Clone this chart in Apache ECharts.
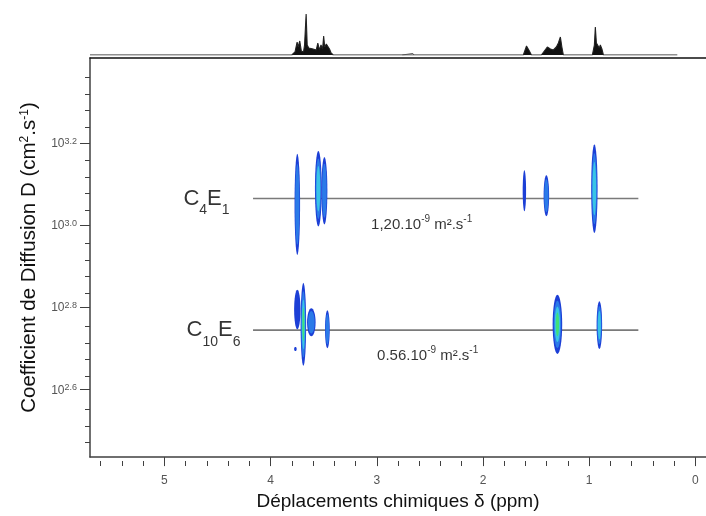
<!DOCTYPE html>
<html><head><meta charset="utf-8">
<script src="https://cdn.jsdelivr.net/npm/echarts@6/dist/echarts.min.js"></script>
<style>html,body{margin:0;padding:0;background:#fff}#c{width:706px;height:516px}</style>
</head><body><div id="c"></div>
<script>
// ---- axis ticks ----
const xMajorTicks = [0, 1, 2, 3, 4, 5];
const xMinorTicks = [0.2,0.4,0.6,0.8,1.2,1.4,1.6,1.8,2.2,2.4,2.6,2.8,3.2,3.4,3.6,3.8,4.2,4.4,4.6,4.8,5.2,5.4,5.6];
const yMajorTicks = [2.6, 2.8, 3.0, 3.2];
const yMinorTicks = [2.48,2.52,2.56,2.64,2.68,2.72,2.76,2.84,2.88,2.92,2.96,3.04,3.08,3.12,3.16,3.24,3.28,3.32,3.36];

// ---- components (DOSY rows) ----
const componentNames = ['C{s|4}E{s|1}', 'C{s|10}E{s|6}'];
const componentLogD = [3.065, 2.745];
const rowStartPpm = [4.165, 4.165];
const rowEndPpm = [0.537, 0.537];
const diffLabels = ['1,20.10{u|-9} m².s{u|-1}', '0.56.10{u|-9} m².s{u|-1}'];

// ---- cross peaks ----
const peakPpm        = [3.748, 3.550, 3.493, 1.610, 1.403, 0.951,   3.748, 3.691, 3.616, 3.465, 3.766, 1.299, 0.904];
const peakLogD       = [3.051, 3.089, 3.084, 3.084, 3.072, 3.089,   2.795, 2.759, 2.764, 2.747, 2.699, 2.759, 2.757];
const peakHalfWidth  = [0.026, 0.032, 0.028, 0.016, 0.026, 0.030,   0.030, 0.026, 0.040, 0.022, 0.012, 0.045, 0.026];
const peakHalfHeight = [0.123, 0.092, 0.082, 0.050, 0.050, 0.108,   0.048, 0.101, 0.034, 0.046, 0.005, 0.072, 0.058];
const peakLevel      = [2, 3, 2, 1, 2, 3,   1, 4, 2, 2, 1, 4, 3];

// ---- 1D spectrum (projection) ----
const specPpm = [5.70,3.80,3.77,3.75,3.74,3.725,3.71,3.69,3.68,3.665,3.655,3.64,3.60,3.57,3.555,3.54,3.525,3.51,3.50,3.49,3.475,3.46,3.445,3.43,3.41,
  1.62,1.59,1.563,1.544,1.45,1.422,1.394,1.365,1.337,1.309,1.29,1.271,1.257,1.243,
  0.97,0.951,0.942,0.932,0.918,0.904,0.895,0.88,0.866,0.17];
const specInt = [0,0,3,13,8,14,4,3,10,41,10,7,6,5,12,5,10,6,19,8,11,9,6,2,0,
  0,9,4,0,0,4,8,6,5,8,12,18,8,0,
  0,10,28,12,13,7,10,6,0,0];
// small solvent bump (outline only)
const bumpPpm = [2.76, 2.75, 2.66, 2.65];
const bumpInt = [0, 1.5, 1.5, 0];

const levelColors = ['#1c3fd6', '#2b7ae8', '#39c4e6', '#3fe07a'];
const FONT = 'Liberation Sans';
const X_MIN = -0.1, X_MAX = 5.7, Y_MIN = 2.436, Y_MAX = 3.407;

const chart = echarts.init(document.getElementById('c'), null, {renderer: 'canvas'});

const rowSeries = componentNames.map((nm, i) => ({
  type: 'line', xAxisIndex: 0, yAxisIndex: 0, symbol: 'none', silent: true,
  lineStyle: {color: '#7a7a7a', width: 1.6}, z: 2,
  data: [[rowStartPpm[i], componentLogD[i]], [rowEndPpm[i], componentLogD[i]]]
}));

const nameSeries = {
  type: 'scatter', xAxisIndex: 0, yAxisIndex: 0, symbolSize: 1, itemStyle: {color: 'rgba(0,0,0,0)'}, silent: true, z: 4,
  data: componentNames.map((nm, i) => ({
    value: [rowStartPpm[i], componentLogD[i]],
    label: {show: true, position: 'left', distance: i === 0 ? 23 : 12, formatter: nm,
      fontFamily: FONT, fontSize: 22, color: '#000', lineHeight: 24,
      rich: {s: {fontSize: 14, fontFamily: FONT, color: '#000', verticalAlign: 'bottom', lineHeight: 14, padding: [0, 0, -7, 0]}}}
  }))
};

const annSeries = {
  type: 'scatter', xAxisIndex: 0, yAxisIndex: 0, symbolSize: 1, itemStyle: {color: 'rgba(0,0,0,0)'}, silent: true, z: 4,
  data: diffLabels.map((t, i) => ({
    value: [(rowStartPpm[i] + rowEndPpm[i]) / 2, componentLogD[i]],
    label: {show: true, position: 'inside', offset: [i === 0 ? -24 : -18, 26], formatter: t,
      fontFamily: FONT, fontSize: 15, color: '#000',
      rich: {u: {fontSize: 10, fontFamily: FONT, color: '#000', verticalAlign: 'top', lineHeight: 10, padding: [-3, 0, 0, 0]}}}
  }))
};

const peakSeries = {
  type: 'custom', xAxisIndex: 0, yAxisIndex: 0, z: 3, clip: true, silent: true,
  data: peakPpm.map((p, i) => [p, peakLogD[i], peakHalfWidth[i], peakHalfHeight[i], peakLevel[i]]),
  renderItem: function (params, api) {
    const c = api.coord([api.value(0), api.value(1)]);
    const sz = api.size([api.value(2), api.value(3)]);
    const rx = Math.abs(sz[0]), ry = Math.abs(sz[1]);
    const lvl = api.value(4);
    const children = [];
    for (let k = 0; k < lvl; k++) {
      const fx = 1 - k * 0.22, fy = 1 - k * 0.2;
      const pts = [];
      for (let a = 0; a < 32; a++) {
        const t = a / 32 * Math.PI * 2;
        pts.push([c[0] + Math.cos(t) * Math.max(rx * fx, 0.6), c[1] + Math.sin(t) * ry * fy]);
      }
      children.push({type: 'polygon', shape: {points: pts}, style: {fill: levelColors[k]}});
    }
    return {type: 'group', children: children};
  }
};

const specSeries = {
  type: 'line', xAxisIndex: 2, yAxisIndex: 2, symbol: 'none', silent: true,
  data: specPpm.map((p, i) => [p, specInt[i]]),
  lineStyle: {color: '#222', width: 1.1},
  areaStyle: {color: '#111', opacity: 1, origin: 0}
};
const bumpSeries = {
  type: 'line', xAxisIndex: 2, yAxisIndex: 2, symbol: 'none', silent: true,
  data: bumpPpm.map((p, i) => [p, bumpInt[i]]),
  lineStyle: {color: '#555', width: 1}
};

const yLabelFmt = v => '{b|10}{s|' + v.toFixed(1) + '}';

chart.setOption({
  animation: false,
  backgroundColor: '#fff',
  grid: [
    {left: 90, right: 0, top: 58, bottom: 55},
    {left: 90, right: 0, top: 10, bottom: 461},
    {left: 90, right: 0, top: 58, bottom: 55}
  ],
  xAxis: [
    {gridIndex: 0, type: 'value', min: X_MIN, max: X_MAX, inverse: true, position: 'bottom',
      name: 'Déplacements chimiques δ (ppm)', nameLocation: 'middle', nameGap: 34,
      nameTextStyle: {fontFamily: FONT, fontSize: 19, color: '#111'},
      axisLine: {show: true, onZero: false, lineStyle: {color: '#404040', width: 1.5}},
      axisTick: {show: true, length: 9, customValues: xMajorTicks, lineStyle: {color: '#404040', width: 1}},
      axisLabel: {show: true, customValues: xMajorTicks, margin: 18, fontFamily: FONT, fontSize: 12, color: '#555'},
      splitLine: {show: false}},
    {gridIndex: 2, type: 'value', min: X_MIN, max: X_MAX, inverse: true, position: 'bottom',
      axisLine: {show: false, onZero: false},
      axisTick: {show: true, length: 5, customValues: xMinorTicks, lineStyle: {color: '#404040', width: 1}},
      axisLabel: {show: false}, splitLine: {show: false}},
    {gridIndex: 1, type: 'value', min: X_MIN, max: X_MAX, inverse: true, show: false},
    {gridIndex: 0, type: 'value', min: X_MIN, max: X_MAX, inverse: true, position: 'top',
      axisLine: {show: true, onZero: false, lineStyle: {color: '#111', width: 1.5}},
      axisTick: {show: false}, axisLabel: {show: false}, splitLine: {show: false}}
  ],
  yAxis: [
    {gridIndex: 0, type: 'value', min: Y_MIN, max: Y_MAX, position: 'left',
      name: 'Coefficient de Diffusion D (cm{p|2}.s{p|-1})', nameLocation: 'middle', nameGap: 47, nameRotate: 90,
      nameTextStyle: {fontFamily: FONT, fontSize: 20.5, color: '#111', lineHeight: 22,
        rich: {p: {fontFamily: FONT, fontSize: 12, color: '#111', verticalAlign: 'top', lineHeight: 14}}},
      axisLine: {show: true, onZero: false, lineStyle: {color: '#404040', width: 1.5}},
      axisTick: {show: true, length: 10, customValues: yMajorTicks, lineStyle: {color: '#404040', width: 1}},
      axisLabel: {show: true, customValues: yMajorTicks, margin: 13, formatter: yLabelFmt,
        rich: {
          b: {fontFamily: FONT, fontSize: 12, color: '#555', verticalAlign: 'bottom', lineHeight: 13},
          s: {fontFamily: FONT, fontSize: 9, color: '#555', verticalAlign: 'top', lineHeight: 10}
        }},
      splitLine: {show: false}},
    {gridIndex: 2, type: 'value', min: Y_MIN, max: Y_MAX, position: 'left',
      axisLine: {show: false, onZero: false},
      axisTick: {show: true, length: 5, customValues: yMinorTicks, lineStyle: {color: '#404040', width: 1}},
      axisLabel: {show: false}, splitLine: {show: false}},
    {gridIndex: 1, type: 'value', min: 0, max: 45, show: false}
  ],
  series: [specSeries, bumpSeries].concat(rowSeries, [peakSeries, nameSeries, annSeries])
});
</script></body></html>
